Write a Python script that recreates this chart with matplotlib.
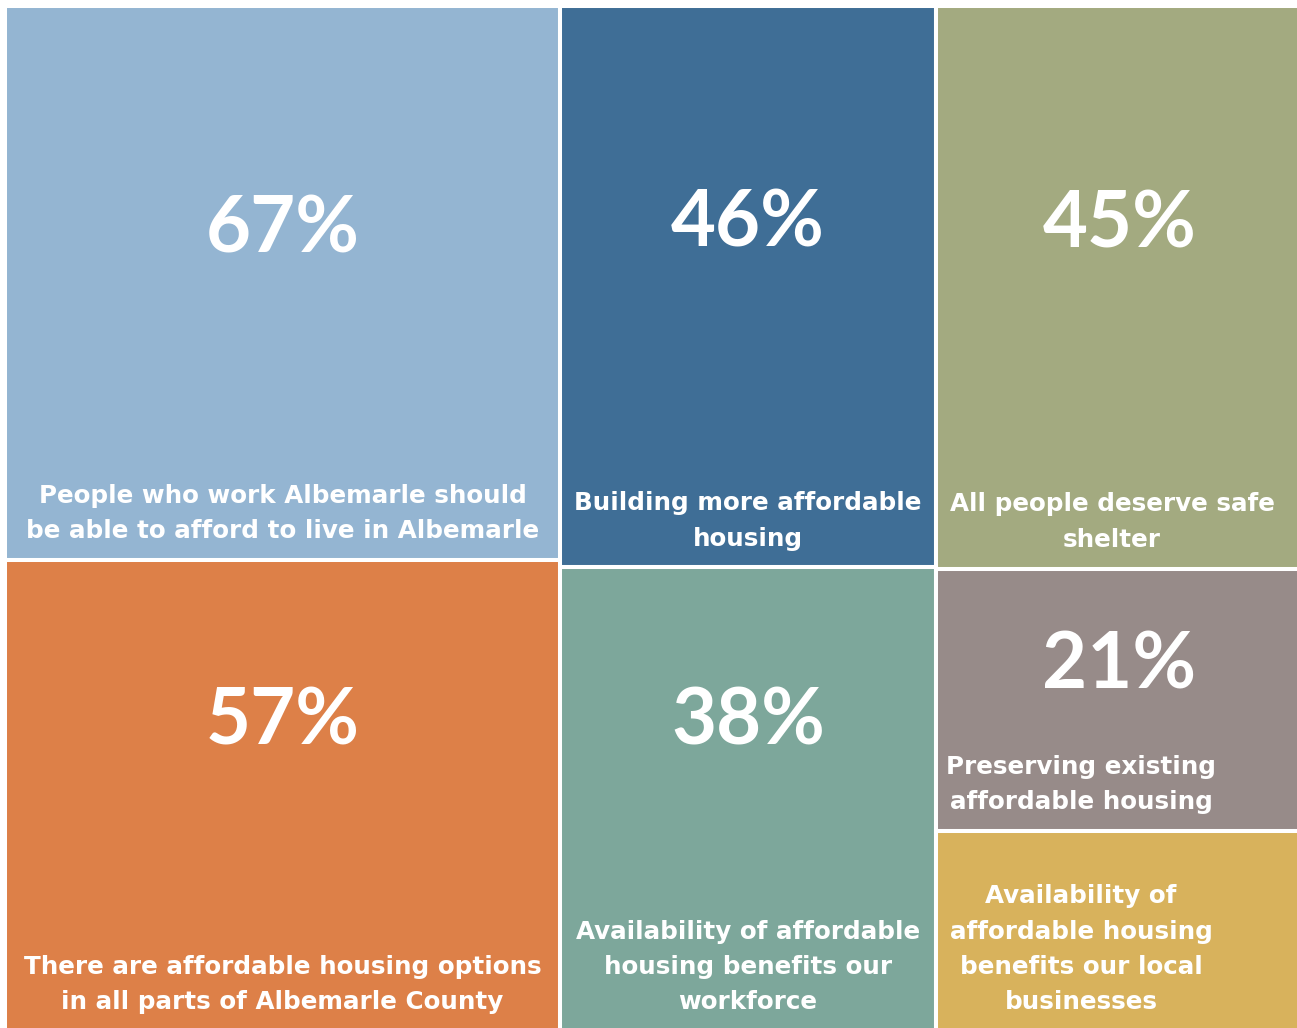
import numpy as np
import matplotlib.pyplot as plt
from matplotlib.patches import Rectangle

# treemap tiles, column by column, top to bottom
values = [67, 57, 46, 38, 45, 21, 16]
shown = [True, True, True, True, True, True, False]
columns = [0, 0, 1, 1, 2, 2, 2]
labels = [
    "People who work Albemarle should\nbe able to afford to live in Albemarle",
    "There are affordable housing options\nin all parts of Albemarle County",
    "Building more affordable\nhousing",
    "Availability of affordable\nhousing benefits our\nworkforce",
    "All people deserve safe\nshelter",
    "Preserving existing\naffordable housing",
    "Availability of\naffordable housing\nbenefits our local\nbusinesses",
]
colors = ["#94B5D2", "#DD8048", "#3F6E96", "#7DA79B", "#A3AA80", "#978B89", "#D8B25C"]

# where the big number sits (fraction of tile height from top), label x position (fraction of width)
pct_pos = [0.405, 0.345, 0.39, 0.335, 0.39, 0.375, 0.4]
lab_pos = [0.5, 0.5, 0.5, 0.5, 0.48, 0.395, 0.395]

W, H = 1297, 1028
fig = plt.figure(figsize=(W / 100, H / 100), dpi=100)
fig.patch.set_facecolor("white")

total = sum(values)
# axes placed so the treemap runs slightly past the right/bottom edge like the original
ax = fig.add_axes([5 / W, -3 / H, 1298 / W, 1025 / H])
ax.set_xlim(0, total)
ax.set_ylim(100, 0)
ax.axis("off")

col_ids = sorted(set(columns))
col_tot = {c: sum(v for v, cc in zip(values, columns) if cc == c) for c in col_ids}

x = 0
for c in col_ids:
    w = col_tot[c]
    y = 0
    for i in range(len(values)):
        if columns[i] != c:
            continue
        h = values[i] / col_tot[c] * 100
        ax.add_patch(Rectangle((x, y), w, h, facecolor=colors[i], edgecolor="white", lw=2.9))
        if shown[i]:
            ax.text(x + w * 0.5, y + h * pct_pos[i], f"{values[i]}%", ha="center", va="center",
                    color="white", fontsize=56, fontweight="bold", family="Lato")
        ax.annotate(labels[i], (x + w * lab_pos[i], y + h), xytext=(0, 12), textcoords="offset points",
                    ha="center", va="bottom", color="white", fontsize=17.7, fontweight="bold",
                    family="DejaVu Sans", linespacing=1.6, multialignment="center")
        y += h
    x += w

fig.savefig("out.png", dpi=100)
